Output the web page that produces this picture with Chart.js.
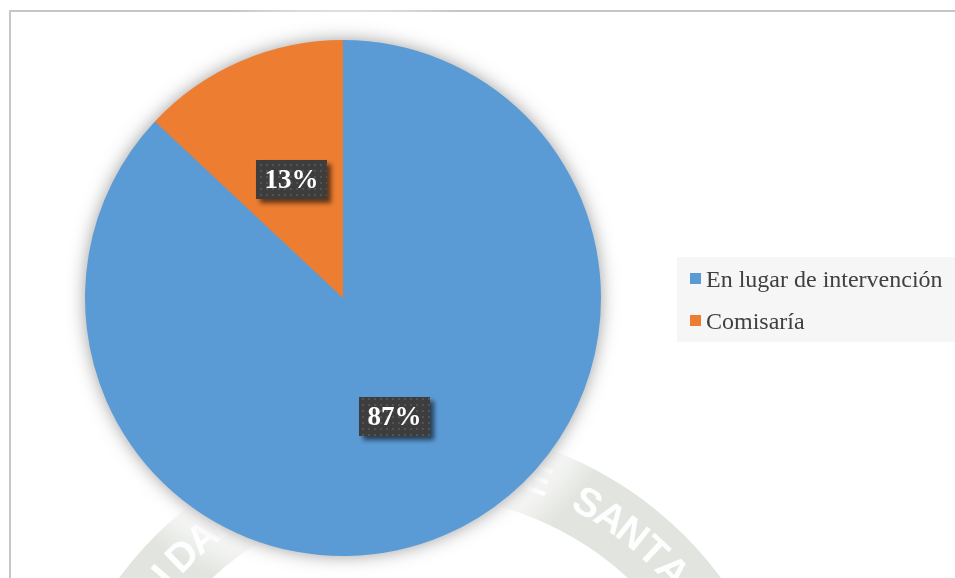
<!DOCTYPE html>
<html>
<head>
<meta charset="utf-8">
<script src="https://cdn.jsdelivr.net/npm/chart.js@4.4.0/dist/chart.umd.min.js"></script>
<style>
  html, body { margin: 0; padding: 0; background: #fff; }
  #wrap { width: 955px; height: 578px; position: relative; }
</style>
</head>
<body>
<div id="wrap"><canvas id="pie-chartcanvas" width="955" height="578"></canvas></div>
<script>
// lugar donde se realizó la intervención
var categories = ["En lugar de intervención", "Comisaría"];
var percentages = [87, 13];
var sliceColors = ["#5b9bd5", "#ed7d31"];

var serif = '"Liberation Serif", "Times New Roman", serif';

// faint university seal behind the chart
var sealText = "UNIVERSIDAD CATÓLICA DE SANTA MARÍA";

var backdrop = {
  id: "backdrop",
  beforeDraw: function (chart) {
    var ctx = chart.ctx;
    ctx.save();
    ctx.fillStyle = "#ffffff";
    ctx.fillRect(0, 0, chart.width, chart.height);

    // seal band
    var cx = 420, cy = 800;
    ctx.beginPath();
    ctx.arc(cx, cy, 374, 0, Math.PI * 2);
    ctx.arc(cx, cy, 304, 0, Math.PI * 2, true);
    ctx.fillStyle = "rgba(200, 205, 197, 0.55)";
    ctx.fill();
    ctx.strokeStyle = "rgba(255,255,255,0.9)";
    ctx.lineWidth = 5;
    ctx.beginPath();
    ctx.arc(cx, cy, 298, 0, Math.PI * 2);
    ctx.stroke();

    // seal letters, one per angular step
    ctx.font = 'bold 40px "Liberation Sans", Arial, sans-serif';
    ctx.fillStyle = "rgba(255,255,255,0.95)";
    ctx.textAlign = "center";
    ctx.textBaseline = "middle";
    var step = 4.6 * Math.PI / 180;
    var start = -171 * Math.PI / 180;
    for (var i = 0; i < sealText.length; i++) {
      var a = start + i * step;
      ctx.save();
      ctx.translate(cx + 339 * Math.cos(a), cy + 339 * Math.sin(a));
      ctx.rotate(a + Math.PI / 2);
      ctx.fillText(sealText[i], 0, 0);
      ctx.restore();
    }

    // outer frame
    ctx.strokeStyle = "#c6c6c6";
    ctx.lineWidth = 2;
    ctx.strokeRect(10, 11, chart.width + 20, chart.height + 20);
    ctx.restore();
  },
  beforeDatasetsDraw: function (chart) {
    var arc = chart.getDatasetMeta(0).data[0];
    if (!arc) return;
    var ctx = chart.ctx;
    var r = arc.outerRadius;
    ctx.save();
    // white halo fading the seal near the pie
    var g = ctx.createRadialGradient(arc.x, arc.y, r, arc.x, arc.y, r + 50);
    g.addColorStop(0, "rgba(255,255,255,1)");
    g.addColorStop(1, "rgba(255,255,255,0)");
    ctx.fillStyle = g;
    ctx.beginPath();
    ctx.arc(arc.x, arc.y, r + 50, 0, Math.PI * 2);
    ctx.fill();
    // soft outer shadow of the pie
    ctx.shadowColor = "rgba(0,0,0,0.42)";
    ctx.shadowBlur = 18;
    ctx.fillStyle = sliceColors[0];
    ctx.beginPath();
    ctx.arc(arc.x, arc.y, r - 1, 0, Math.PI * 2);
    ctx.fill();
    ctx.restore();
  }
};

// dark dotted data labels with drop shadow
function makePattern(ctx) {
  var p = document.createElement("canvas");
  p.width = 6; p.height = 6;
  var pc = p.getContext("2d");
  pc.fillStyle = "#3d3d3d";
  pc.fillRect(0, 0, 6, 6);
  pc.fillStyle = "#535353";
  pc.fillRect(2, 2, 2, 2);
  return ctx.createPattern(p, "repeat");
}

var sliceLabels = {
  id: "sliceLabels",
  afterDatasetsDraw: function (chart) {
    var ctx = chart.ctx;
    var meta = chart.getDatasetMeta(0);
    var pattern = makePattern(ctx);
    ctx.save();
    ctx.font = "bold 27px " + serif;
    ctx.textAlign = "center";
    ctx.textBaseline = "middle";
    meta.data.forEach(function (el, i) {
      var pos = el.tooltipPosition();
      var txt = percentages[i] + "%";
      var w = 71, h = 39;
      var x = Math.round(pos.x - w / 2), y = Math.round(pos.y - h / 2);
      ctx.save();
      ctx.shadowColor = "rgba(0,0,0,0.6)";
      ctx.shadowBlur = 5;
      ctx.shadowOffsetX = 4;
      ctx.shadowOffsetY = 4;
      ctx.fillStyle = pattern;
      ctx.fillRect(x, y, w, h);
      ctx.restore();
      ctx.fillStyle = "#ffffff";
      ctx.fillText(txt, x + w / 2, y + h / 2 + 2);
    });
    ctx.restore();
  }
};

var sideLegend = {
  id: "sideLegend",
  afterDraw: function (chart) {
    var ctx = chart.ctx;
    var labels = chart.data.labels;
    var colors = chart.data.datasets[0].backgroundColor;
    ctx.save();
    ctx.fillStyle = "#f6f6f6";
    ctx.fillRect(677, 257, 280, 85);
    ctx.font = "24px " + serif;
    ctx.textBaseline = "alphabetic";
    ctx.textAlign = "left";
    for (var i = 0; i < labels.length; i++) {
      var base = 287 + i * 42;
      ctx.fillStyle = colors[i];
      ctx.fillRect(690, base - 14, 11, 11);
      ctx.fillStyle = "#404040";
      ctx.fillText(labels[i], 706, base);
    }
    ctx.restore();
  }
};

var ctx1 = document.getElementById("pie-chartcanvas");
var chart1 = new Chart(ctx1, {
  type: "pie",
  data: {
    labels: categories,
    datasets: [{
      data: percentages,
      backgroundColor: sliceColors,
      borderWidth: 0
    }]
  },
  options: {
    responsive: false,
    animation: false,
    layout: { padding: { left: 85, top: 40, right: 354, bottom: 22 } },
    plugins: {
      legend: { display: false },
      tooltip: { enabled: false }
    }
  },
  plugins: [backdrop, sliceLabels, sideLegend]
});
</script>
</body>
</html>
